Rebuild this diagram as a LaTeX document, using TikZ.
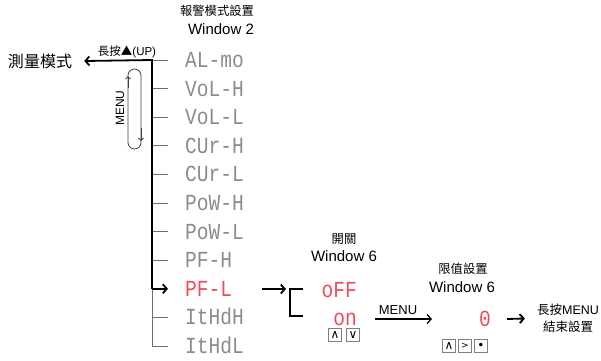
\documentclass[tikz,border=0pt]{standalone}
\usepackage{fontspec}
\setmainfont{Liberation Sans}
\newfontfamily\cjk{Noto Sans CJK TC}
\newfontfamily\segfont[FakeStretch=0.85]{Liberation Mono}
\newfontfamily\keyfont{DejaVu Sans}
\usetikzlibrary{arrows.meta,positioning,calc}

\definecolor{seggray}{RGB}{140,140,140}
\definecolor{segred}{RGB}{240,75,90}
\definecolor{tickgray}{RGB}{110,110,110}

\begin{document}
\begin{tikzpicture}[x=1pt,y=-1pt,
    >={Straight Barb[length=4pt,width=9pt]},
    seg/.style={font=\segfont\fontsize{23}{23}\selectfont, text=seggray,
        inner sep=0pt, text height=15pt, text depth=0pt},
    segon/.style={seg, text=segred},
    ttl/.style={font=\cjk\fontsize{12.3}{14}\selectfont, inner sep=0pt},
    win/.style={font=\fontsize{15}{17}\selectfont, inner sep=0pt},
    lbl/.style={font=\fontsize{12.5}{14}\selectfont, inner sep=0pt},
    keybox/.style={draw=gray, line width=0.8pt, minimum size=12.5pt, inner sep=0pt,
        font=\keyfont\fontsize{12}{12}\selectfont},
    spine/.style={line width=1.8pt},
    tick/.style={tickgray, line width=0.9pt}]

    \useasboundingbox (0,0) rectangle (601,360);

    % Spacing of the menu entries
    \def\top{60}
    \def\gap{28.6}

    % ---- window 2 header ----
    \node[ttl] (hdr2) at (217,11) {報警模式設置};
    \node[win] (win2) at (221,29) {Window 2};

    % ---- menu entries ----
    \foreach \i/\t in {0/AL-mo, 1/VoL-H, 2/VoL-L, 3/CUr-H, 4/CUr-L,
                       5/PoW-H, 6/PoW-L, 7/PF-H, 8/PF-L, 9/ItHdH, 10/ItHdL} {
        \coordinate (s\i) at (152,{\top+\i*\gap});
        \coordinate (t\i) at (168,{\top+\i*\gap});
        \ifnum\i=8
            \node[segon, anchor=west] (item\i) at (185,{\top+\i*\gap}) {\t};
        \else
            \node[seg, anchor=west] (item\i) at (185,{\top+\i*\gap}) {\t};
            \draw[tick] (s\i) -- (t\i);
        \fi
    }

    % ---- spine ----
    \node[font=\cjk\fontsize{16}{18}\selectfont, inner sep=0pt] (meas) at (40,61) {測量模式};
    \draw[spine,->] (s8) -- (s0) -- ([xshift=12pt]meas.east);
    \draw[tick] (s8) -- (s10);
    \draw[spine,->] (s8) -- (t8);
    \node[font=\fontsize{11.5}{13}\selectfont, inner sep=0pt] (up) at (127,52)
        {{\cjk 長按▲}(UP)};

    % MENU loop
    \draw[black!75, line width=0.8pt, rounded corners=6.5pt] (128,69) rectangle (141,149);
    \draw[black!75, line width=0.8pt, -{Straight Barb[length=2.5pt,width=5pt]}]
        (128,88) -- (128,76);
    \draw[black!75, line width=0.8pt, -{Straight Barb[length=2.5pt,width=5pt]}]
        (141,128) -- (141,141);
    \node[lbl, rotate=90, font=\fontsize{12}{14}\selectfont] (loop) at (120,108) {MENU};

    % ---- window 6: on / off ----
    \node[ttl] (hdr6a) at (344,239) {開關};
    \node[win] (win6a) at (344,256) {Window 6};
    \node[segon, anchor=east] (off) at (357,290) {oFF};
    \node[segon, anchor=east] (on) at (357,318) {on};
    \node[keybox] (kup) at (335,335) {∧};
    \node[keybox] (kdn) at (353,335) {∨};

    \coordinate (pfout) at (262,289);
    \coordinate (bra) at (303,289);
    \coordinate (brb) at (290,289);
    \coordinate (brc) at (290,316);
    \coordinate (brd) at (303,316);
    \draw[spine] (bra) -- (brb) -- (brc) -- (brd);
    \draw[spine,->] (pfout) -- ([xshift=-4pt]brb);

    % ---- window 6: limit ----
    \coordinate (m1) at (375,319);
    \coordinate (m2) at (432,319);
    \draw[line width=1.3pt,->] (m1) -- (m2);
    \node[lbl, font=\fontsize{13}{15}\selectfont] (menu) at (398,310) {MENU};

    \node[ttl] (hdr6b) at (463,269) {限值設置};
    \node[win] (win6b) at (462,287) {Window 6};
    \node[segon] (zero) at (485,319) {0};
    \node[keybox] (kup2) at (449,346) {∧};
    \node[keybox, font=\keyfont\fontsize{9}{9}\selectfont] (kright) at (465,346) {>};
    \node[keybox] (kdot) at (481,346) {•};

    % ---- exit ----
    \node[lbl, align=center, font=\fontsize{12.5}{17}\selectfont] (done) at (568,318.5)
        {{\cjk 長按}MENU\\{\cjk 結束設置}};
    \coordinate (e1) at (507,319);
    \draw[spine,->] (e1) -- ([xshift=-12pt]done.west);

\end{tikzpicture}
\end{document}
